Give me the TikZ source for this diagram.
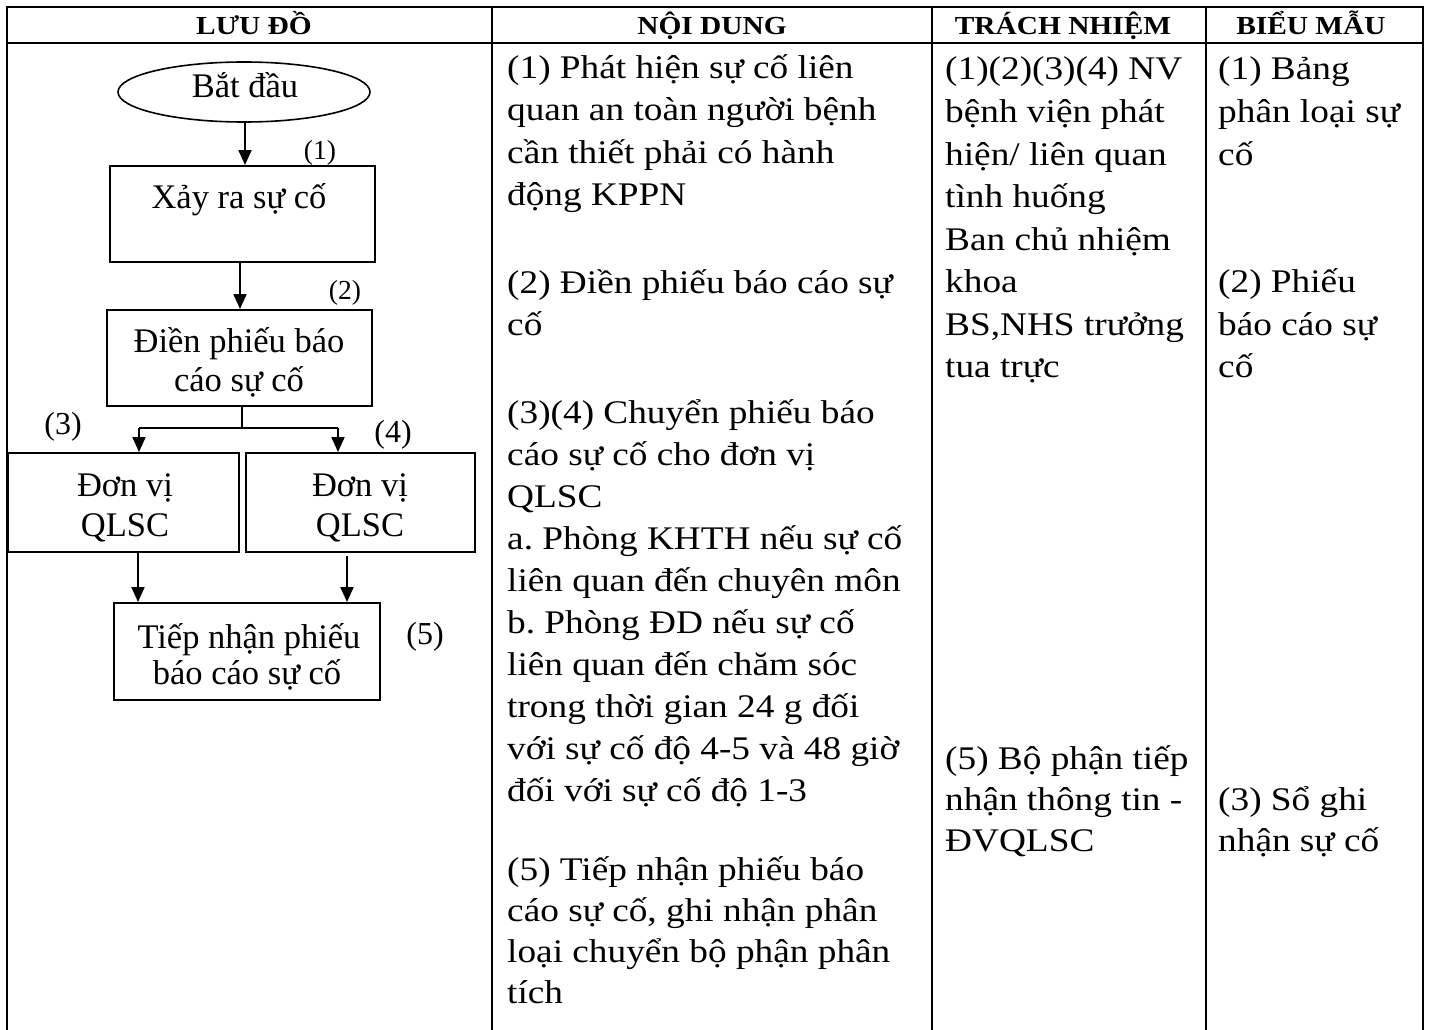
\documentclass[tikz,border=0pt]{standalone}
\usepackage{fontspec}
\setmainfont{Liberation Serif}
\newfontfamily\tbl{Liberation Serif}[FakeStretch=1.13]
\usetikzlibrary{arrows.meta,shapes.geometric}
\frenchspacing
\tikzset{
  tline/.style={line width=2.4pt},
  fbox/.style={draw, line width=2pt, rectangle, inner sep=0pt},
  arr/.style={line width=2pt, -{Triangle[width=13pt,length=15pt]}},
  link/.style={line width=2pt},
  body/.style={anchor=base west, inner sep=0pt, font=\tbl\fontsize{33}{40}\selectfont},
  head/.style={anchor=base, inner sep=0pt, font=\tbl\bfseries\fontsize{26}{30}\selectfont},
  ftext/.style={anchor=base, inner sep=0pt, font=\fontsize{34.5}{40}\selectfont},
  smallnum/.style={anchor=base, inner sep=0pt, font=\fontsize{27.5}{30}\selectfont},
  bignum/.style={anchor=base, inner sep=0pt, font=\fontsize{32}{36}\selectfont},
}
\begin{document}
\begin{tikzpicture}[x=1pt,y=-1pt]
\useasboundingbox (0,0) rectangle (1429,1030);
% table
\draw[tline] (7,1032) -- (7,7) -- (1423,7) -- (1423,1032);
\draw[tline] (7,43) -- (1423,43);
\draw[tline] (492,7) -- (492,1032);
\draw[tline] (932,7) -- (932,1032);
\draw[tline] (1206,7) -- (1206,1032);
% headers
\node[head] (h1) at (254,35) {LƯU ĐỒ};
\node[head] (h2) at (712,35) {NỘI DUNG};
\node[head] (h3) at (1063,35) {TRÁCH NHIỆM};
\node[head] (h4) at (1311,35) {BIỂU MẪU};
% flowchart
\node[draw, ellipse, line width=1.6pt, minimum width=252pt, minimum height=60pt, inner sep=0pt] (start) at (244,92) {};
\node[ftext] (starttxt) at (245,98) {Bắt đầu};
\node[fbox, minimum width=265pt, minimum height=96pt] (b1) at (242.5,214) {};
\node[ftext] (b1t) at (239,208) {Xảy ra sự cố};
\node[fbox, minimum width=265pt, minimum height=96pt] (b2) at (239.5,358) {};
\node[ftext] (b2t1) at (239,352) {Điền phiếu báo};
\node[ftext] (b2t2) at (239,391) {cáo sự cố};
\node[fbox, minimum width=231pt, minimum height=99pt] (b3) at (123.5,502.5) {};
\node[ftext] (b3t1) at (125,496) {Đơn vị};
\node[ftext] (b3t2) at (125,536) {QLSC};
\node[fbox, minimum width=229pt, minimum height=99pt] (b4) at (360.5,502.5) {};
\node[ftext] (b4t1) at (360,496) {Đơn vị};
\node[ftext] (b4t2) at (360,536) {QLSC};
\node[fbox, minimum width=266pt, minimum height=97pt] (b5) at (247,651.5) {};
\node[ftext] (b5t1) at (249,648) {Tiếp nhận phiếu};
\node[ftext] (b5t2) at (247,684) {báo cáo sự cố};
% step numbers
\node[smallnum] (n1) at (320,160) {(1)};
\node[smallnum] (n2) at (345,299) {(2)};
\node[bignum] (n3) at (63,434) {(3)};
\node[bignum] (n4) at (393,442) {(4)};
\node[bignum] (n5) at (425,644) {(5)};
% connectors
\draw[arr] (start.south -| 245,0) -- (b1.north -| 245,0);
\draw[arr] (b1.south -| 240,0) -- (b2.north -| 240,0);
\coordinate (split) at (242,428);
\coordinate (splitL) at (139,428);
\coordinate (splitR) at (338,428);
\draw[link] (b2.south -| split) -- (split);
\draw[link] (splitL) -- (splitR);
\draw[arr] (splitL) -- (b3.north -| splitL);
\draw[arr] (splitR) -- (b4.north -| splitR);
\draw[arr] (b3.south -| 138,0) -- (b5.north -| 138,0);
\draw[arr] ([yshift=-3pt]b4.south -| 347,0) -- (b5.north -| 347,0);
% NOI DUNG
\node[body] (c1) at (507,79) {(1) Phát hiện sự cố liên};
\node[body] (c2) at (507,121) {quan an toàn người bệnh};
\node[body] (c3) at (507,163) {cần thiết phải có hành};
\node[body] (c4) at (507,205) {động KPPN};
\node[body] (c5) at (507,293) {(2) Điền phiếu báo cáo sự};
\node[body] (c6) at (507,335) {cố};
\node[body] (c7) at (507,423) {(3)(4) Chuyển phiếu báo};
\node[body] (c8) at (507,465.1) {cáo sự cố cho đơn vị};
\node[body] (c9) at (507,507.2) {QLSC};
\node[body] (c10) at (507,549.3) {a. Phòng KHTH nếu sự cố};
\node[body] (c11) at (507,591.4) {liên quan đến chuyên môn};
\node[body] (c12) at (507,633.5) {b. Phòng ĐD nếu sự cố};
\node[body] (c13) at (507,675.6) {liên quan đến chăm sóc};
\node[body] (c14) at (507,717.7) {trong thời gian 24 g đối};
\node[body] (c15) at (507,759.8) {với sự cố độ 4-5 và 48 giờ};
\node[body] (c16) at (507,801.9) {đối với sự cố độ 1-3};
\node[body] (c17) at (507,880) {(5) Tiếp nhận phiếu báo};
\node[body] (c18) at (507,921) {cáo sự cố, ghi nhận phân};
\node[body] (c19) at (507,962) {loại chuyển bộ phận phân};
\node[body] (c20) at (507,1003) {tích};
% TRACH NHIEM
\node[body] (r1) at (945,80) {(1)(2)(3)(4) NV};
\node[body] (r2) at (945,122.5) {bệnh viện phát};
\node[body] (r3) at (945,165) {hiện/ liên quan};
\node[body] (r4) at (945,207) {tình huống};
\node[body] (r5) at (945,250) {Ban chủ nhiệm};
\node[body] (r6) at (945,292.5) {khoa};
\node[body] (r7) at (945,335) {BS,NHS trưởng};
\node[body] (r8) at (945,377) {tua trực};
\node[body] (r9) at (945,769) {(5) Bộ phận tiếp};
\node[body] (r10) at (945,810) {nhận thông tin -};
\node[body] (r11) at (945,851) {ĐVQLSC};
% BIEU MAU
\node[body] (f1) at (1218,80) {(1) Bảng};
\node[body] (f2) at (1218,122.5) {phân loại sự};
\node[body] (f3) at (1218,165) {cố};
\node[body] (f4) at (1218,292.5) {(2) Phiếu};
\node[body] (f5) at (1218,335) {báo cáo sự};
\node[body] (f6) at (1218,377) {cố};
\node[body] (f7) at (1218,810) {(3) Sổ ghi};
\node[body] (f8) at (1218,851) {nhận sự cố};
\end{tikzpicture}
\end{document}
